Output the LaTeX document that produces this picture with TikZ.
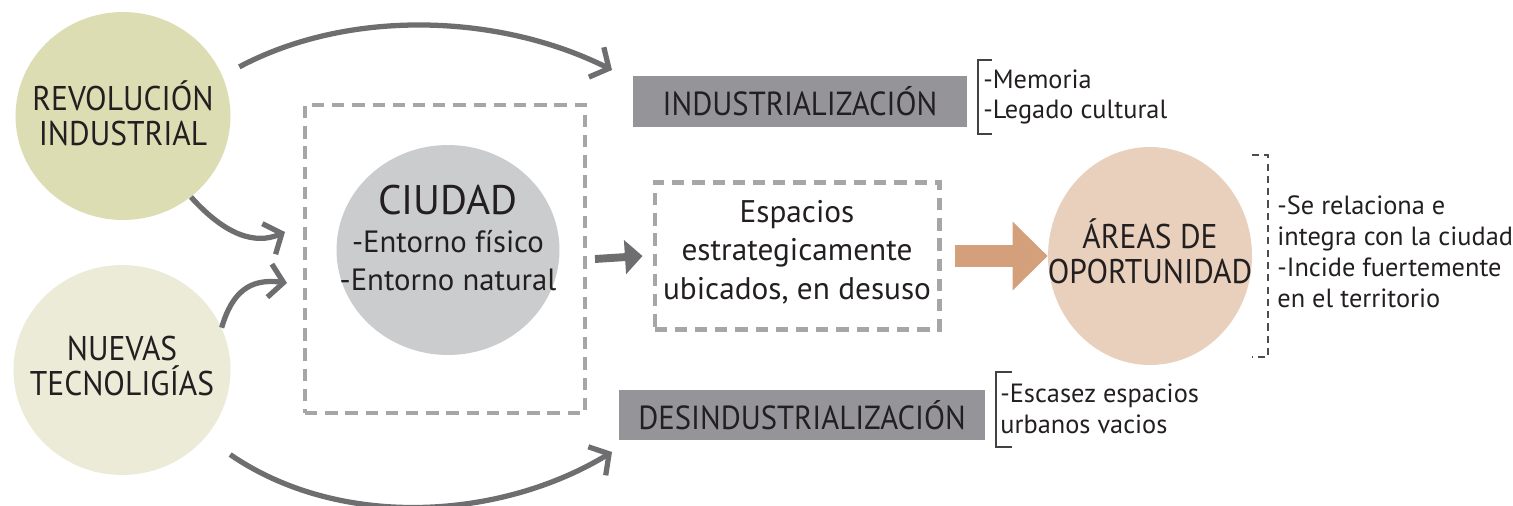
\documentclass[tikz,border=0pt]{standalone}
\usepackage{fontspec}
\setmainfont{PT Sans}
\newfontfamily\bigfont[FakeStretch=0.92]{PT Sans}
\usetikzlibrary{arrows.meta,shapes.geometric}

\definecolor{revfill}{HTML}{DDDDB3}
\definecolor{nuefill}{HTML}{EBEBD7}
\definecolor{ciufill}{HTML}{CBCCCE}
\definecolor{areafill}{HTML}{E8D0BC}
\definecolor{dashgray}{HTML}{A6A6A8}
\definecolor{boxgray}{HTML}{959599}
\definecolor{arrowgray}{HTML}{6E6E70}
\definecolor{orangearrow}{HTML}{D4A07C}
\definecolor{inkcol}{HTML}{231F20}

\tikzset{
  blob/.style={ellipse, inner sep=0pt},
  bigtxt/.style={align=center, inner sep=0pt,
    font=\bigfont\fontsize{19.5}{20}\selectfont},
  graybox/.style={fill=boxgray, inner sep=0pt,
    font=\bigfont\fontsize{19}{20}\selectfont},
  dashbox/.style={draw=dashgray, line width=2.3pt, dash pattern=on 7pt off 4.5pt},
  note/.style={align=left, anchor=west, inner sep=0pt,
    font=\fontsize{15}{17.6}\selectfont},
  flow/.style={draw=arrowgray, line width=3pt,
    -{Straight Barb[length=8pt,width=19pt]}},
}

\begin{document}
\begin{tikzpicture}[x=0.02cm, y=-0.02cm, text=inkcol]
    \useasboundingbox (0,0) rectangle (1513,506);

    % Sources
    \node[blob, fill=revfill, minimum width=4.3cm, minimum height=4.16cm,
      label={[bigtxt, yshift=0.06cm]center:{REVOLUCIÓN\\INDUSTRIAL}}] (rev) at (123,116) {};
    \node[blob, fill=nuefill, minimum width=4.34cm, minimum height=4.2cm,
      label={[bigtxt, yshift=0.08cm]center:{NUEVAS\\TECNOLIGÍAS}}] (nue) at (122,370) {};

    % City
    \node[dashbox, minimum width=5.6cm, minimum height=6.16cm] (ciudadbox) at (445,259) {};
    \node[blob, fill=ciufill, minimum width=4.46cm, minimum height=4.2cm] (ciudad) at (448,250) {};
    \node[align=center, inner sep=0pt, font=\fontsize{17.5}{21.5}\selectfont] (ciudadtxt) at (448,238)
      {{\fontsize{23.5}{24}\selectfont CIUDAD}\\-Entorno físico\\-Entorno natural};

    % Spaces
    \node[dashbox, minimum width=5.7cm, minimum height=2.94cm] (espbox) at (797,256) {};
    \node[align=center, inner sep=0pt, font=\fontsize{17.8}{22}\selectfont] (esp) at (797,252)
      {Espacios\\estrategicamente\\ubicados, en desuso};

    % Opportunity
    \node[blob, fill=areafill, minimum width=4.08cm, minimum height=4.36cm,
      label={[bigtxt, yshift=0.1cm]center:{ÁREAS DE\\OPORTUNIDAD}}] (areas) at (1150,256) {};

    % Phases
    \node[graybox, minimum width=6.68cm, minimum height=1.02cm] (ind) at (800,101.5) {INDUSTRIALIZACIÓN};
    \node[graybox, minimum width=7.32cm, minimum height=1.0cm] (desind) at (802,415) {DESINDUSTRIALIZACIÓN};

    % Notes
    \draw[inkcol!85, line width=1.2pt] (992,60) -- (978,60) -- (978,134) -- (992,134);
    \node[note] (memoria) at (983,97) {-Memoria\\-Legado cultural};
    \draw[inkcol!85, line width=1.2pt] (1012,372) -- (996,372) -- (996,447) -- (1012,447);
    \node[note] (escasez) at (1000,409) {-Escasez espacios\\urbanos vacios};
    \draw[inkcol!80, line width=1.2pt, dash pattern=on 4pt off 3pt]
      (1252,155) -- (1268,155) -- (1268,357) -- (1252,357);
    \node[note] (efectos) at (1277,252)
      {-Se relaciona e\\integra con la ciudad\\-Incide fuertemente\\en el territorio};

    % Connectors
    \coordinate (indin) at (612,70);
    \coordinate (desin) at (612,452);
    \coordinate (ciuin1) at (285,232);
    \coordinate (ciuin2) at (287,283);
    \draw[flow, shorten <=0.38cm] (rev.22) .. controls (350,8) and (500,14) .. (indin);
    \draw[flow, shorten <=0.6cm] (nue.-39) .. controls (340,530) and (500,520) .. (desin);
    \draw[flow] (rev.-50) .. controls (225,235) and (255,245) .. (ciuin1);
    \draw[flow] (nue.23) .. controls (232,292) and (250,278) .. (ciuin2);

    \draw[draw=arrowgray, line width=4.5pt, -{Triangle[length=10pt,width=19pt]}]
      ([xshift=0.16cm]ciudadbox.east) -- ([xshift=-0.2cm]espbox.west);
    \draw[draw=orangearrow, line width=12.5pt, -{Triangle[length=20pt,width=38pt]}]
      ([xshift=0.26cm]espbox.east) -- (areas.west);
\end{tikzpicture}
\end{document}
